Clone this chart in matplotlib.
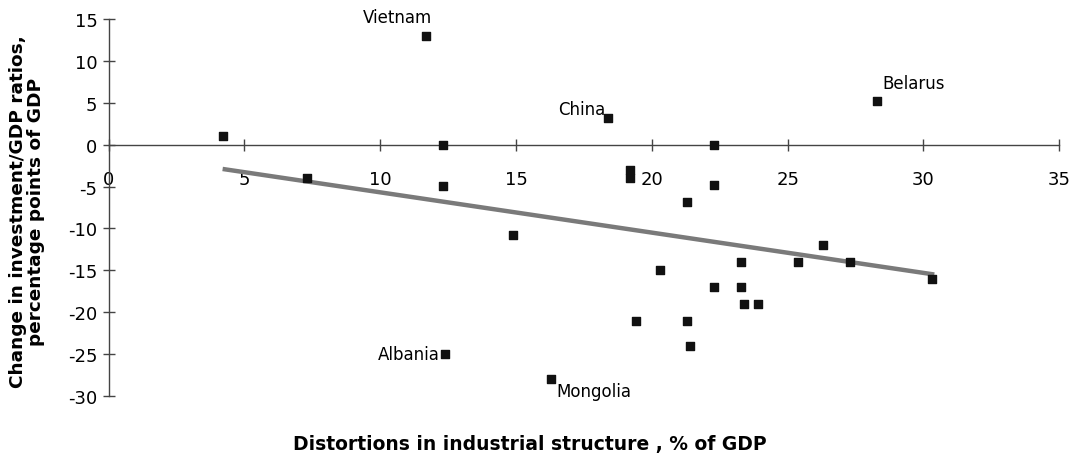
import numpy as np
import matplotlib.pyplot as plt

# distortions in industrial structure (% of GDP) vs change in investment/GDP
dist = [4.2, 11.7, 12.3, 7.3, 12.3, 18.4, 28.3, 22.3, 19.2, 19.2, 22.3, 21.3,
        14.9, 12.4, 26.3, 23.3, 25.4, 27.3, 30.3, 20.3, 22.3, 23.3, 23.4, 23.9,
        19.4, 21.3, 21.4, 16.3]
change = [1.0, 13.0, 0.0, -4.0, -4.9, 3.2, 5.2, 0.0, -3.0, -4.0, -4.8, -6.8,
          -10.8, -25.0, -12.0, -14.0, -14.0, -14.0, -16.0, -15.0, -17.0, -17.0,
          -19.0, -19.0, -21.0, -21.0, -24.0, -28.0]

# trend line ends
trend_x = [4.2, 30.4]
trend_y = [-2.9, -15.5]

# labelled countries: name, text position, alignment
labels = ['Vietnam', 'China', 'Belarus', 'Albania', 'Mongolia']
label_x = [11.9, 18.3, 28.5, 12.2, 16.5]
label_y = [15.2, 4.3, 7.4, -25.0, -29.4]
label_ha = ['right', 'right', 'left', 'right', 'left']

plt.rcParams['font.family'] = ['DejaVu Sans']
plt.rcParams['axes.unicode_minus'] = False

fig = plt.figure(figsize=(10.82, 4.6), dpi=100)
ax = fig.add_axes([0.1003, 0.137, 0.8787, 0.8195])

ax.plot(trend_x, trend_y, color='#7a7a7a', linewidth=3.2, solid_capstyle='butt', zorder=2)
ax.scatter(dist, change, marker='s', s=38, color='#111111', zorder=3)

for name, tx, ty, ha in zip(labels, label_x, label_y, label_ha):
    ax.text(tx, ty, name, ha=ha, va='center', fontsize=12, clip_on=False)

ax.set_xlim(0, 35)
ax.set_ylim(-30, 15)
ax.set_xticks(np.arange(0, 36, 5))
ax.set_yticks(np.arange(-30, 16, 5))

ax.spines['left'].set_position(('data', 0))
ax.spines['bottom'].set_position(('data', 0))
ax.spines['top'].set_visible(False)
ax.spines['right'].set_visible(False)
for s in ['left', 'bottom']:
    ax.spines[s].set_color('#444444')
    ax.spines[s].set_linewidth(1)

ax.tick_params(axis='x', direction='inout', length=8, width=1, color='#444444',
               labelsize=13, pad=14)
ax.tick_params(axis='y', direction='inout', length=8, width=1, color='#444444',
               labelsize=13, pad=4)

fig.text(0.025, 0.54, 'Change in investment/GDP ratios,\npercentage points of GDP',
         rotation=90, ha='center', va='center', fontsize=13.3, fontweight='bold',
         linespacing=1.0)
fig.text(0.49, 0.033, 'Distortions in industrial structure , % of GDP',
         ha='center', va='center', fontsize=13.5, fontweight='bold')

fig.savefig('out.png', dpi=100)
